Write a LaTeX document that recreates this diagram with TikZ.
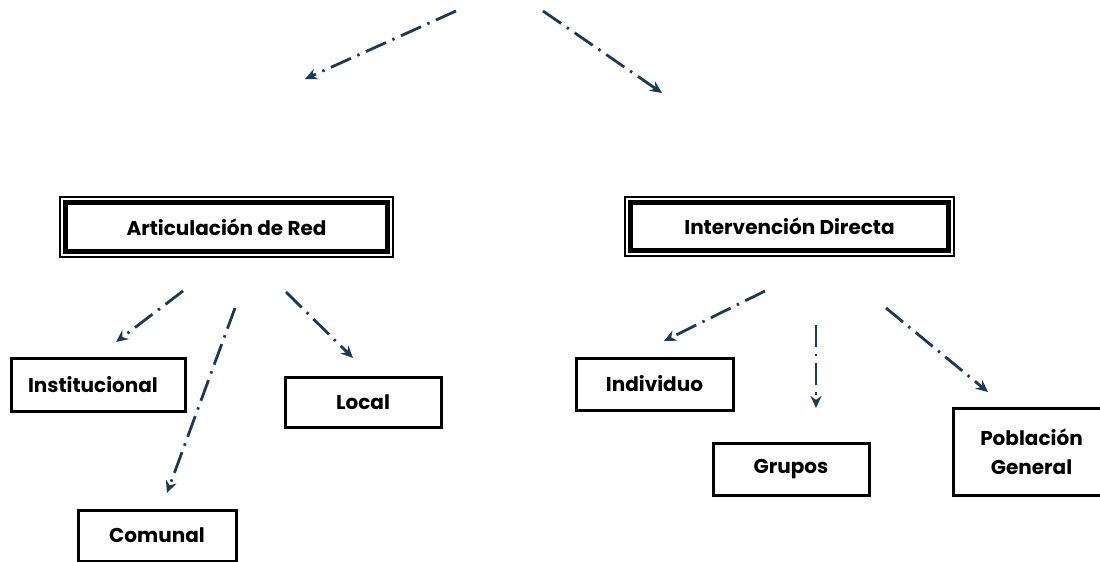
\documentclass[tikz,border=0pt]{standalone}
\usepackage{fontspec}
\setmainfont{Poppins}
\usetikzlibrary{arrows.meta}
\definecolor{arrowblue}{HTML}{1C3A56}
\begin{document}
\begin{tikzpicture}[x=0.5pt,y=-0.5pt,
  txt/.style={font=\fontsize{10}{14.5}\selectfont\bfseries},
  box/.style={txt, draw=black, line width=1.5pt, inner sep=0pt, align=center},
  headbox/.style={txt, draw=black, line width=2.2pt, inner sep=0pt, outer sep=0pt, align=center},
  link/.style={draw=arrowblue, line width=1.4pt,
    dash pattern=on 11pt off 3.5pt on 1.2pt off 3.5pt,
    -{Stealth[length=6pt,width=5.5pt]}}]
\clip (0,0) rectangle (1100,562);
\fill[white] (0,0) rectangle (1100,562);

% header boxes
\node[headbox, minimum width=161pt, minimum height=24.5pt] (art) at (226.5,227) {Articulación de Red};
\draw[line width=0.6pt] ([shift={(-5.5,-5.5)}]art.north west) rectangle ([shift={(5.5,5.5)}]art.south east);
\node[headbox, minimum width=159pt, minimum height=24pt] (int) at (789.5,226.5) {Intervención Directa};
\draw[line width=0.6pt] ([shift={(-5.5,-5.5)}]int.north west) rectangle ([shift={(5.5,5.5)}]int.south east);

% leaf boxes
\node[box, inner xsep=8.5pt, text width=70pt, align=left, minimum height=26.5pt] (inst) at (98,384.5) {Institucional};
\node[box, minimum width=78pt, minimum height=25pt] (local) at (363,402) {Local};
\node[box, minimum width=79pt, minimum height=25.5pt] (comunal) at (157,535.5) {Comunal};
\node[box, minimum width=78.5pt, minimum height=26pt] (indiv) at (654.5,384) {Individuo};
\node[box, minimum width=78pt, minimum height=26pt] (grupos) at (791,469) {Grupos};
\node[box, minimum width=78.5pt, minimum height=43.5pt] (pob) at (1031.5,451.5) {Población\\General};

% arrow end points
\coordinate (top1) at (456,11);
\coordinate (topL) at (305,79);
\coordinate (top2) at (543,11);
\coordinate (topR) at (662,93);
\coordinate (a1) at (183,291);
\coordinate (inst-in) at (116,342);
\coordinate (a2) at (235,308);
\coordinate (comunal-in) at (167,493);
\coordinate (a3) at (286,292);
\coordinate (local-in) at (353,358);
\coordinate (b1) at (765,291);
\coordinate (indiv-in) at (664,341);
\coordinate (b2) at (816,325);
\coordinate (grupos-in) at (816,408);
\coordinate (b3) at (886,308);
\coordinate (pob-in) at (988,392);

\draw[link] (top1) -- (topL);
\draw[link] (top2) -- (topR);
\draw[link] (a1) -- (inst-in);
\draw[link] (a2) -- (comunal-in);
\draw[link] (a3) -- (local-in);
\draw[link] (b1) -- (indiv-in);
\draw[link] (b2) -- (grupos-in);
\draw[link] (b3) -- (pob-in);
\end{tikzpicture}
\end{document}
